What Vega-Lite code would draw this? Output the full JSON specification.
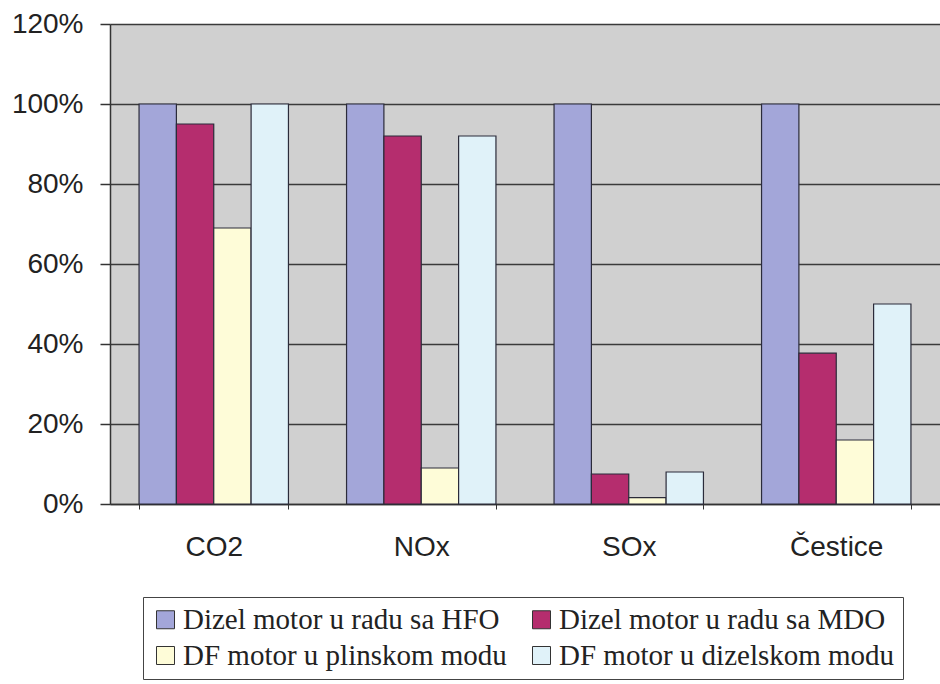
{
  "$schema": "https://vega.github.io/schema/vega-lite/v6.json",
  "autosize": {"type": "none"},
  "padding": {"left": 110, "top": 24, "right": 0, "bottom": 180},
  "width": 830,
  "height": 480,
  "background": "white",
  "config": {
    "view": {"fill": "#D0D0D0", "stroke": null},
    "font": "Liberation Sans"
  },
  "data": {
    "values": [
      {"cat": "CO2", "series": "Dizel motor u radu sa HFO", "value": 100},
      {"cat": "CO2", "series": "Dizel motor u radu sa MDO", "value": 95},
      {"cat": "CO2", "series": "DF motor u plinskom modu", "value": 69},
      {"cat": "CO2", "series": "DF motor u dizelskom modu", "value": 100},
      {"cat": "NOx", "series": "Dizel motor u radu sa HFO", "value": 100},
      {"cat": "NOx", "series": "Dizel motor u radu sa MDO", "value": 92},
      {"cat": "NOx", "series": "DF motor u plinskom modu", "value": 9},
      {"cat": "NOx", "series": "DF motor u dizelskom modu", "value": 92},
      {"cat": "SOx", "series": "Dizel motor u radu sa HFO", "value": 100},
      {"cat": "SOx", "series": "Dizel motor u radu sa MDO", "value": 7.5},
      {"cat": "SOx", "series": "DF motor u plinskom modu", "value": 1.6},
      {"cat": "SOx", "series": "DF motor u dizelskom modu", "value": 8},
      {"cat": "Čestice", "series": "Dizel motor u radu sa HFO", "value": 100},
      {"cat": "Čestice", "series": "Dizel motor u radu sa MDO", "value": 37.7},
      {"cat": "Čestice", "series": "DF motor u plinskom modu", "value": 16},
      {"cat": "Čestice", "series": "DF motor u dizelskom modu", "value": 50}
    ]
  },
  "mark": {"type": "bar", "stroke": "#2b2b3a", "strokeWidth": 1.2},
  "encoding": {
    "x": {
      "field": "cat", "type": "nominal",
      "sort": ["CO2", "NOx", "SOx", "Čestice"],
      "scale": {"paddingInner": 0.28, "paddingOuter": 0.14},
      "axis": {
        "title": null, "labelAngle": 0, "labelFontSize": 28, "labelColor": "#222",
        "labelPadding": 24, "tickBand": "extent", "tickSize": 5, "tickColor": "#333",
        "domainColor": "#333", "domainWidth": 1.5
      }
    },
    "xOffset": {
      "field": "series", "type": "nominal",
      "sort": ["Dizel motor u radu sa HFO", "Dizel motor u radu sa MDO", "DF motor u plinskom modu", "DF motor u dizelskom modu"],
      "scale": {"paddingInner": 0, "paddingOuter": 0}
    },
    "y": {
      "field": "value", "type": "quantitative",
      "scale": {"domain": [0, 120], "nice": false},
      "axis": {
        "title": null, "values": [0, 20, 40, 60, 80, 100, 120],
        "labelExpr": "datum.value + '%'", "labelFontSize": 28, "labelColor": "#222",
        "labelPadding": 17, "tickSize": 10, "tickColor": "#333", "tickWidth": 1.5,
        "grid": true, "gridColor": "#3a3a3a", "gridWidth": 1.5,
        "domainColor": "#333", "domainWidth": 1.5
      }
    },
    "color": {
      "field": "series", "type": "nominal",
      "scale": {
        "domain": ["Dizel motor u radu sa HFO", "Dizel motor u radu sa MDO", "DF motor u plinskom modu", "DF motor u dizelskom modu"],
        "range": ["#A3A6D9", "#B52D6E", "#FEFCD8", "#E0F2F9"]
      },
      "legend": {
        "title": null, "orient": "none", "legendX": 33, "legendY": 573,
        "direction": "horizontal", "columns": 2,
        "labelFont": "Liberation Serif", "labelFontSize": 29, "labelColor": "#222",
        "labelLimit": 500, "labelOffset": 3,
        "symbolType": "square", "symbolSize": 324, "symbolStrokeColor": "#333", "symbolStrokeWidth": 1,
        "columnPadding": 20, "rowPadding": 6,
        "strokeColor": "#444", "padding": 8, "fillColor": "white"
      }
    }
  }
}
